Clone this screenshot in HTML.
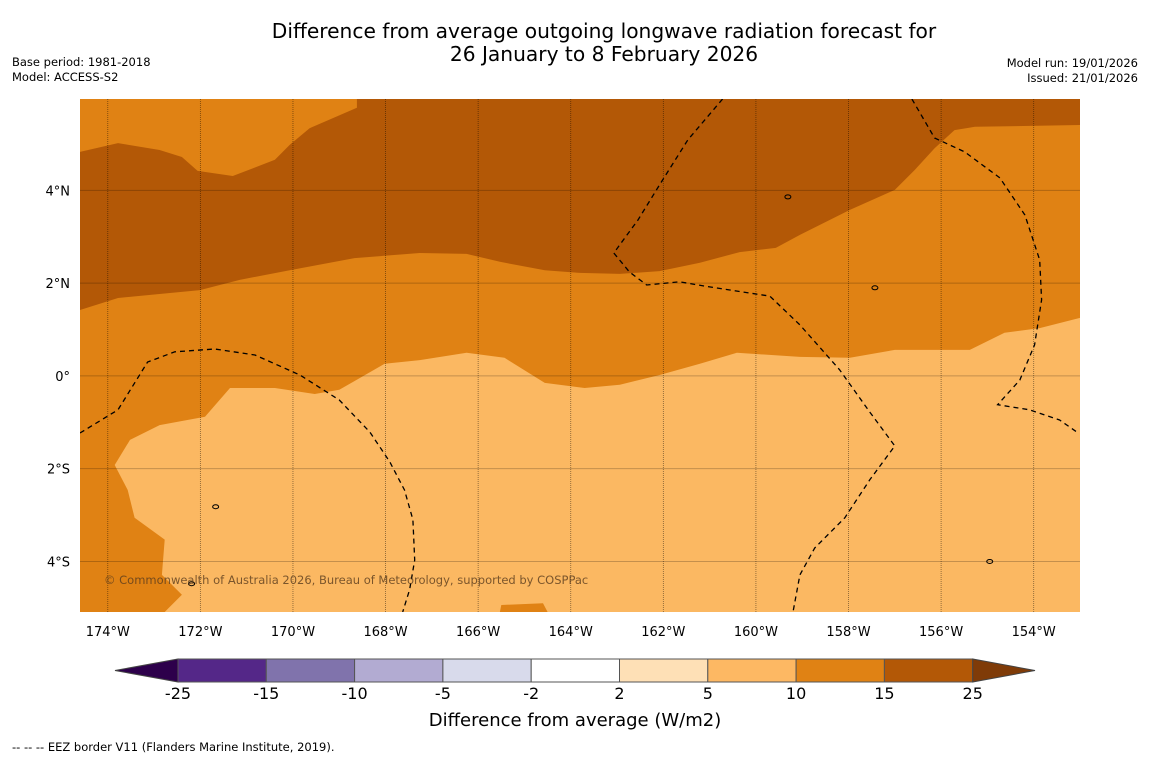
<!DOCTYPE html>
<html><head><meta charset="utf-8"><style>
body{margin:0;background:#fff;width:1150px;height:758px;overflow:hidden;font-family:"DejaVu Sans","Liberation Sans",sans-serif;}
svg{display:block}
</style></head><body>
<svg id="c" width="1150" height="758" xmlns="http://www.w3.org/2000/svg" font-family="DejaVu Sans, Liberation Sans, sans-serif">
<text x="604" y="38" text-anchor="middle" font-size="20.2" fill="#000">Difference from average outgoing longwave radiation forecast for</text>
<text x="604" y="61" text-anchor="middle" font-size="20.2" fill="#000">26 January to 8 February 2026</text>
<text x="12" y="66" font-size="11.5">Base period: 1981-2018</text>
<text x="12" y="81" font-size="11.5">Model: ACCESS-S2</text>
<text x="1138" y="67" font-size="11.5" text-anchor="end">Model run: 19/01/2026</text>
<text x="1138" y="82" font-size="11.5" text-anchor="end">Issued: 21/01/2026</text>
<defs><clipPath id="mapclip"><rect x="80" y="99" width="1000" height="513"/></clipPath></defs>
<g id="map" clip-path="url(#mapclip)"></g>
<g id="axes"></g>
<g id="cbar"></g>
<text x="575" y="726" text-anchor="middle" font-size="18">Difference from average (W/m2)</text>
<text x="12" y="751" font-size="11.5">--  --  -- EEZ border V11 (Flanders Marine Institute, 2019).</text>
</svg>
<script>
const lonDomain=[-174.6,-153.0];
const latDomain=[5.97,-5.09];
const lonTicks=[-174,-172,-170,-168,-166,-164,-162,-160,-158,-156,-154];
const lonTickLabels=["174°W","172°W","170°W","168°W","166°W","164°W","162°W","160°W","158°W","156°W","154°W"];
const latTicks=[4,2,0,-2,-4];
const latTickLabels=["4°N","2°N","0°","2°S","4°S"];
const midTopLeft=[[-174.6,5.97],[-174.6,4.83],[-173.78,5.02],[-172.88,4.87],[-172.4,4.72],[-172.06,4.42],[-171.3,4.31],[-170.39,4.66],[-170.07,4.98],[-169.64,5.34],[-168.62,5.78],[-168.62,5.97]];
const darkRegion=[[-174.6,5.97],[-174.6,1.42],[-173.78,1.68],[-172.01,1.85],[-171.15,2.07],[-170.07,2.28],[-168.67,2.54],[-167.26,2.65],[-166.25,2.63],[-165.53,2.46],[-164.56,2.28],[-163.81,2.22],[-162.94,2.2],[-162.08,2.26],[-161.21,2.44],[-160.35,2.67],[-159.57,2.76],[-159.05,3.04],[-157.97,3.58],[-157.0,4.01],[-156.57,4.44],[-156.14,4.91],[-155.71,5.3],[-155.27,5.37],[-153.0,5.41],[-153.0,5.97]];
const lightRegion=[[-153.0,1.25],[-153.87,1.03],[-154.63,0.93],[-155.38,0.56],[-157.0,0.56],[-157.97,0.39],[-159.05,0.41],[-160.41,0.5],[-161.21,0.26],[-162.08,0.02],[-162.94,-0.19],[-163.7,-0.26],[-164.56,-0.15],[-165.43,0.39],[-166.25,0.5],[-167.26,0.34],[-168.02,0.26],[-169.0,-0.3],[-169.53,-0.39],[-170.39,-0.26],[-171.36,-0.26],[-171.9,-0.88],[-172.88,-1.06],[-173.52,-1.38],[-173.85,-1.92],[-173.57,-2.46],[-173.42,-3.06],[-172.77,-3.53],[-172.83,-4.29],[-172.4,-4.72],[-172.77,-5.09],[-153.0,-5.09]];
const midBump=[[-165.53,-5.09],[-165.5,-4.94],[-164.6,-4.9],[-164.5,-5.09]];
const eez1=[[-174.6,-1.23],[-173.78,-0.73],[-173.14,0.3],[-172.55,0.52],[-171.69,0.58],[-170.82,0.45],[-169.85,0.02],[-169.0,-0.52],[-168.34,-1.21],[-167.91,-1.85],[-167.59,-2.46],[-167.41,-3.1],[-167.37,-3.97],[-167.48,-4.61],[-167.63,-5.09]];
const eez2=[[-160.72,5.97],[-161.47,5.09],[-162.08,4.12],[-162.55,3.36],[-163.07,2.65],[-162.73,2.24],[-162.36,1.96],[-161.65,2.03],[-161.0,1.92],[-159.7,1.72],[-159.05,1.1],[-158.19,0.13],[-157.54,-0.78],[-157.0,-1.51],[-157.54,-2.24],[-158.08,-3.06],[-158.73,-3.71],[-159.05,-4.29],[-159.2,-5.09]];
const eez3=[[-156.63,5.97],[-156.14,5.13],[-155.49,4.83],[-154.73,4.27],[-154.19,3.47],[-153.87,2.5],[-153.83,1.64],[-153.98,0.67],[-154.3,-0.09],[-154.78,-0.62],[-154.09,-0.73],[-153.44,-0.95],[-153.07,-1.21]];
const islands=[[-159.31,3.86],[-157.43,1.9],[-171.67,-2.82],[-172.19,-4.48],[-154.95,-4.0]];
const cbLevels=["-25","-15","-10","-5","-2","2","5","10","15","25"];
const cbColors=["#542788","#8073ac","#b2abd2","#d8daeb","#ffffff","#fee0b6","#fdb863","#e08214","#b35806"];
const cbLow="#2d004b", cbHigh="#7f3b08";

const X0=80,X1=1080,Y0=99,Y1=612;
const xs=lon=>X0+(lon-lonDomain[0])/(lonDomain[1]-lonDomain[0])*(X1-X0);
const ys=lat=>Y0+(lat-latDomain[0])/(latDomain[1]-latDomain[0])*(Y1-Y0);
const NS="http://www.w3.org/2000/svg";
function mk(tag,attrs,parent){const e=document.createElementNS(NS,tag);for(const k in attrs)e.setAttribute(k,attrs[k]);parent.appendChild(e);return e;}
const pts=a=>a.map(p=>xs(p[0]).toFixed(1)+","+ys(p[1]).toFixed(1)).join(" ");
const map=document.getElementById('map');
let e;
e=mk('rect',{x:X0,y:Y0,width:X1-X0,height:Y1-Y0,fill:"#e08214"},map);


e=mk('polygon',{points:pts(darkRegion),fill:"#b35806"},map);


e=mk('polygon',{points:pts(midTopLeft),fill:"#e08214"},map);


e=mk('polygon',{points:pts(lightRegion),fill:"#fbb862"},map);


e=mk('polygon',{points:pts(midBump),fill:"#e08214"},map);


lonTicks.forEach(l=>{e=mk('line',{x1:xs(l),x2:xs(l),y1:Y0,y2:Y1,stroke:"rgba(0,0,0,0.5)","stroke-width":0.8,"stroke-dasharray":"1,1"},map);

});
latTicks.forEach(l=>{e=mk('line',{x1:X0,x2:X1,y1:ys(l),y2:ys(l),stroke:"rgba(0,0,0,0.22)","stroke-width":1},map);

});
[eez1,eez2,eez3].forEach(a=>{e=mk('polyline',{points:pts(a),fill:"none",stroke:"#000","stroke-width":1.3,"stroke-dasharray":"5,4"},map);

});
islands.forEach(p=>{e=mk('ellipse',{cx:xs(p[0]),cy:ys(p[1]),rx:3,ry:2,fill:"none",stroke:"#000","stroke-width":1},map);

});
e=mk('text',{x:104,y:584,"font-size":11.5,fill:"rgba(90,60,30,0.8)"},map);
e.textContent="© Commonwealth of Australia 2026, Bureau of Meteorology, supported by COSPPac";


const ax=document.getElementById('axes');
lonTicks.forEach((l,i)=>{e=mk('text',{x:xs(l),y:636,"text-anchor":"middle","font-size":13},ax);e.textContent=lonTickLabels[i];

});
latTicks.forEach((l,i)=>{e=mk('text',{x:70,y:ys(l)+5,"text-anchor":"end","font-size":13},ax);e.textContent=latTickLabels[i];

});
const cb=document.getElementById('cbar');
const CB0=178,CBW=88.3,CBY=659,CBH=23;
e=mk('polygon',{points:`115,670.5 ${CB0},${CBY} ${CB0},${CBY+CBH}`,fill:cbLow,stroke:"#444","stroke-width":1},cb);


cbColors.forEach((c,i)=>{e=mk('rect',{x:CB0+i*CBW,y:CBY,width:CBW,height:CBH,fill:c,stroke:"#555","stroke-width":1},cb);

});
const CBE=CB0+cbColors.length*CBW;
e=mk('polygon',{points:`${CBE},${CBY} ${CBE},${CBY+CBH} 1035,670.5`,fill:cbHigh,stroke:"#444","stroke-width":1},cb);


cbLevels.forEach((t,i)=>{e=mk('text',{x:CB0+i*CBW,y:699,"text-anchor":"middle","font-size":16},cb);e.textContent=t;

});
</script>
</body></html>
